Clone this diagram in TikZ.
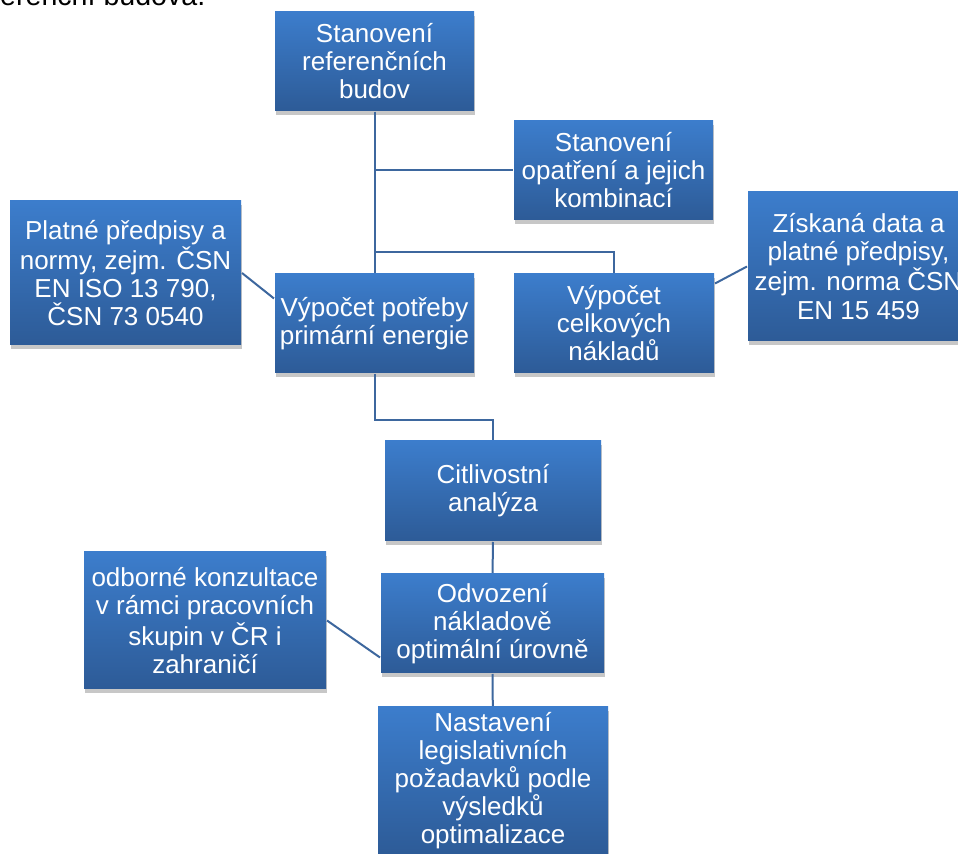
\documentclass[tikz,border=0pt]{standalone}
\usepackage{fontspec}
\setmainfont{Liberation Sans}
\usetikzlibrary{shadows}

\definecolor{blokhore}{HTML}{3C7DCC}
\definecolor{blokdole}{HTML}{2D5B97}
\definecolor{spoj}{HTML}{3D679E}

\tikzset{
  blok/.style={top color=blokhore, bottom color=blokdole, text=white,
    align=center, inner sep=2pt,
    font=\fontsize{13pt}{14pt}\selectfont,
    drop shadow={shadow xshift=0.6pt, shadow yshift=-2pt, fill=black, opacity=0.22}},
  spojnice/.style={draw=spoj, line width=1pt}
}

\begin{document}
\begin{tikzpicture}[x=0.5pt, y=-0.5pt, spojnice]
  \clip (0,0) rectangle (958,854);
  \fill[white] (0,0) rectangle (958,854);

  \node[anchor=base east, font=\fontsize{14.3pt}{16pt}\selectfont] (nadpis) at (213,6) {referenční budova.};

  \node[blok, minimum width=99.5pt, minimum height=49.5pt] (ref) at (374.5,61.5) {Stanovení\\referenčních\\budov};
  \node[blok, minimum width=99.5pt, minimum height=49.5pt] (opatr) at (613.5,170.5) {Stanovení\\opatření a jejich\\kombinací};

  \node[blok, minimum width=115.5pt, minimum height=72pt] (platne) at (125.5,273) {Platné předpisy a\\normy, zejm. ČSN\\EN ISO 13 790,\\ČSN 73 0540};
  \node[blok, minimum width=99.5pt, minimum height=49.5pt] (vypE) at (374.5,323.5) {Výpočet potřeby\\primární energie};
  \node[blok, minimum width=100pt, minimum height=49.5pt] (vypN) at (614,323.5) {Výpočet\\celkových\\nákladů};
  \node[blok, minimum width=110.5pt, minimum height=74.5pt] (ziskana) at (858.5,266.5) {Získaná data a\\platné předpisy,\\zejm. norma ČSN\\EN 15 459};

  \node[blok, minimum width=108pt, minimum height=50pt] (citl) at (493,491) {Citlivostní\\analýza};
  \node[blok, minimum width=121pt, minimum height=68.5pt] (odborne) at (205,620.5) {odborné konzultace\\v rámci pracovních\\skupin v ČR i\\zahraničí};
  \node[blok, minimum width=111.5pt, minimum height=49.5pt] (odvoz) at (492.5,623.5) {Odvození\\nákladově\\optimální úrovně};
  \node[blok, minimum width=115pt, minimum height=74pt] (nastav) at (493,781) {Nastavení\\legislativních\\požadavků podle\\výsledků\\optimalizace};

  % spojnice
  \coordinate (rozb) at (614,252);
  \coordinate (zlom) at (493,420);
  \draw (ref) -- (vypE);
  \draw (ref) |- (opatr);
  \draw (ref) |- (rozb) -- (vypN);
  \draw (platne.east) -- ([yshift=12.5pt]vypE.west);
  \draw ([yshift=20pt]vypN.east) -- (ziskana.west);
  \draw (vypE) |- (zlom) -- (citl);
  \draw (odborne.east) -- ([yshift=-17pt]odvoz.west);
  \foreach \from/\to in {citl/odvoz,odvoz/nastav}
    \draw (\from) -- (\to);
\end{tikzpicture}
\end{document}
